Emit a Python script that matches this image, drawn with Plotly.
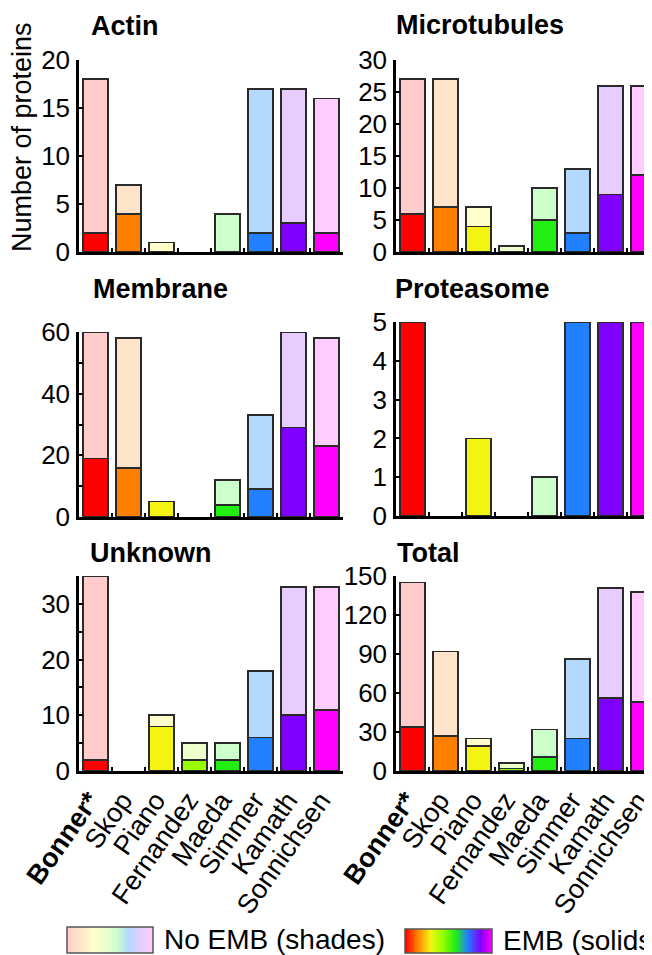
import plotly.graph_objects as go

W, H = 652, 955
OFF = 8  # browser body margin: paper starts 8px in from the window edge

studies = ["Bonner*", "Skop", "Piano", "Fernandez", "Maeda", "Simmer", "Kamath", "Sonnichsen"]
tick_text = ["<b>Bonner*</b>", "Skop", "Piano", "Fernandez", "Maeda", "Simmer", "Kamath", "Sonnichsen"]

solid_colors = ["#FF0000", "#FF8000", "#F4F412", "#99FF00", "#22EE11", "#2080FF", "#8000FF", "#FF00FF"]
shade_colors = ["#FFCCCC", "#FFE4CC", "#FFFFCC", "#EEFFCC", "#CCFFCC", "#B3D9FF", "#E6CCFF", "#FFCCFF"]

actin_emb = [2, 4, 0, 0, 0, 2, 3, 2]
actin_total = [18, 7, 1, 0, 4, 17, 17, 16]
micro_emb = [6, 7, 4, 0, 5, 3, 9, 12]
micro_total = [27, 27, 7, 1, 10, 13, 26, 26]
membrane_emb = [19, 16, 5, 0, 4, 9, 29, 23]
membrane_total = [60, 58, 5, 0, 12, 33, 60, 58]
proteasome_emb = [5, 0, 2, 0, 0, 5, 5, 5]
proteasome_total = [5, 0, 2, 0, 1, 5, 5, 5]
unknown_emb = [2, 0, 8, 2, 2, 6, 10, 11]
unknown_total = [35, 0, 10, 5, 5, 18, 33, 33]
total_emb = [34, 27, 19, 2, 11, 25, 56, 53]
total_total = [145, 92, 25, 6, 32, 86, 141, 138]

FONT = "Liberation Sans, Arial, Helvetica, sans-serif"

def px_x(p):
    return (p - OFF) / W

def px_y(p):
    return 1 - (p - OFF) / H

CAT_PX = 33.0
OUTLINE = 1.8

# name, emb, total, yrange, dtick, minor, x-domain px (window), y-domain px (top, bottom), title x, title y, show x labels
panels = [
    ("Actin", actin_emb, actin_total, 20, 5, None, (79, 343), (60, 252), 89, 26, False),
    ("Microtubules", micro_emb, micro_total, 30, 5, None, (396, 660), (60, 252), 394, 25, False),
    ("Membrane", membrane_emb, membrane_total, 60, 20, 10, (79, 343), (332, 517), 91, 289, False),
    ("Proteasome", proteasome_emb, proteasome_total, 5, 1, None, (396, 660), (322, 516), 393, 289, False),
    ("Unknown", unknown_emb, unknown_total, 35, 10, 5, (79, 343), (576, 771), 88, 553, True),
    ("Total", total_emb, total_total, 150, 30, None, (396, 660), (576, 771), 395, 553, True),
]

fig = go.Figure()
layout = {}
annotations = []

for i, (name, emb, tot, ymax, dtick, minor, xd, yd, tx, ty, showx) in enumerate(panels, start=1):
    xa = "x" if i == 1 else f"x{i}"
    ya = "y" if i == 1 else f"y{i}"
    shade = [t - e for t, e in zip(tot, emb)]
    fig.add_trace(go.Bar(
        x=studies, y=emb, xaxis=xa, yaxis=ya, width=0.74,
        marker=dict(color=solid_colors,
                    line=dict(color="#2a2a2a", width=[OUTLINE if v > 0 else 0 for v in emb])),
        showlegend=False, hoverinfo="x+y"))
    fig.add_trace(go.Bar(
        x=studies, y=shade, xaxis=xa, yaxis=ya, width=0.74,
        marker=dict(color=shade_colors,
                    line=dict(color="#2a2a2a", width=[OUTLINE if v > 0 else 0 for v in shade])),
        showlegend=False, hoverinfo="x+y"))
    xr_max = -0.5 + (xd[1] - xd[0]) / CAT_PX
    xkey = "xaxis" if i == 1 else f"xaxis{i}"
    ykey = "yaxis" if i == 1 else f"yaxis{i}"
    layout[xkey] = dict(
        domain=[px_x(xd[0]), min(1.0, px_x(xd[1]))], anchor=ya,
        type="category", categoryorder="array", categoryarray=studies,
        range=[-0.5, xr_max], showline=True, linecolor="black", linewidth=2.5,
        ticks="inside", tickson="boundaries", ticklen=4, tickwidth=2, tickcolor="black",
        showgrid=False, zeroline=False,
        showticklabels=showx, tickmode="array", tickvals=studies, ticktext=tick_text,
        tickangle=-55, ticklabelshift=-6,
        tickfont=dict(family=FONT, size=27, color="black"),
        automargin=False, fixedrange=True)
    ydict = dict(
        domain=[px_y(yd[1]), px_y(yd[0])], anchor=xa,
        range=[0, ymax], dtick=dtick, tick0=0, showline=True, linecolor="black", linewidth=2.5,
        ticks="inside", ticklen=4, tickwidth=2, tickcolor="black",
        showgrid=False, zeroline=False, ticklabelstandoff=1,
        tickfont=dict(family=FONT, size=26, color="black"),
        automargin=False, fixedrange=True)
    if minor:
        ydict["minor"] = dict(dtick=minor, ticks="inside", ticklen=4, tickwidth=2, tickcolor="black")
    layout[ykey] = ydict
    annotations.append(dict(
        text=f"<b>{name}</b>", xref="paper", yref="paper", x=px_x(tx), y=px_y(ty),
        xanchor="left", yanchor="middle", showarrow=False,
        font=dict(family=FONT, size=27, color="black")))

# y-axis title
annotations.append(dict(
    text="Number of proteins", xref="paper", yref="paper", x=px_x(22), y=px_y(137),
    xanchor="center", yanchor="middle", textangle=-90, showarrow=False,
    font=dict(family=FONT, size=27, color="black")))

# Legend gradients via heatmaps
legend_items = [
    ("No EMB (shades)", shade_colors, (67, 153), (927, 953), 162),
    ("EMB (solids)", solid_colors, (405, 492), (929, 953), 501),
]
shapes = []
for j, (label, cols, bx, by, lx) in enumerate(legend_items, start=7):
    n = len(cols)
    cs = [[k / (n - 1), c] for k, c in enumerate(cols)]
    fig.add_trace(go.Heatmap(
        z=[list(range(n))], x=list(range(n)), y=[0], colorscale=cs, showscale=False,
        zsmooth="best", xaxis=f"x{j}", yaxis=f"y{j}", hoverinfo="skip"))
    layout[f"xaxis{j}"] = dict(domain=[px_x(bx[0]), px_x(bx[1])], anchor=f"y{j}", visible=False,
                               range=[0, n - 1], fixedrange=True)
    layout[f"yaxis{j}"] = dict(domain=[px_y(by[1]), px_y(by[0])], anchor=f"x{j}", visible=False,
                               range=[-0.5, 0.5], fixedrange=True)
    shapes.append(dict(type="rect", xref="paper", yref="paper",
                       x0=px_x(bx[0]), x1=px_x(bx[1]), y0=px_y(by[1]), y1=px_y(by[0]),
                       line=dict(color="#555555", width=1.5), fillcolor="rgba(0,0,0,0)"))
    annotations.append(dict(
        text=label, xref="paper", yref="paper", x=px_x(lx), y=px_y((by[0] + by[1]) / 2 - 1),
        xanchor="left", yanchor="middle", showarrow=False,
        font=dict(family=FONT, size=28, color="black")))

fig.update_layout(
    width=W, height=H, margin=dict(l=0, r=0, t=0, b=0),
    paper_bgcolor="white", plot_bgcolor="white",
    barmode="stack", annotations=annotations, shapes=shapes,
    **layout)

fig.write_html("out.html")
